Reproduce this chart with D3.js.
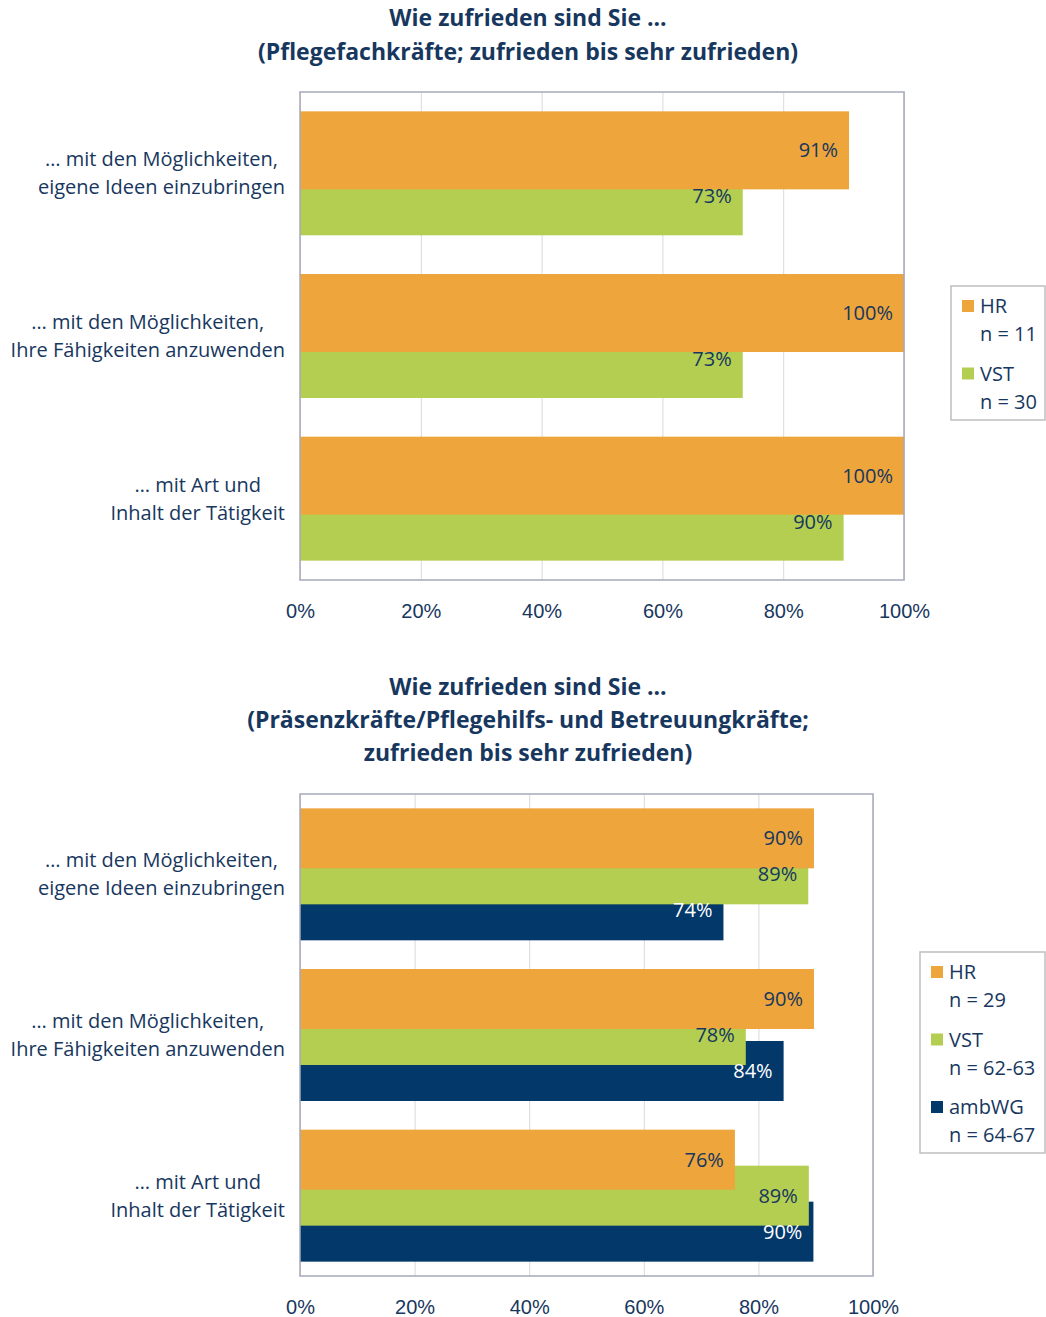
<!DOCTYPE html>
<html>
<head>
<meta charset="utf-8">
<script src="https://cdn.jsdelivr.net/npm/d3@7"></script>
<style>
	body { margin: 0; background: #fff; }
	svg { display: block; font-family: "Open Sans", Lato, sans-serif; }
</style>
</head>
<body>
<div id="chart"></div>
<script>
// categories (same for both charts)
const categories = [
	["… mit den Möglichkeiten,", "eigene Ideen einzubringen"],
	["… mit den Möglichkeiten,", "Ihre Fähigkeiten anzuwenden"],
	["… mit Art und", "Inhalt der Tätigkeit"],
];
const tick_values = [0, 0.2, 0.4, 0.6, 0.8, 1];

// chart 1: Pflegefachkräfte
const title_1 = ["Wie zufrieden sind Sie ...", "(Pflegefachkräfte; zufrieden bis sehr zufrieden)"];
const series_1 = ["HR", "VST"];
const n_1 = ["n = 11", "n = 30"];
const hr_1 = [0.909, 1.0, 1.0];
const vst_1 = [0.733, 0.733, 0.9];

// chart 2: Präsenzkräfte/Pflegehilfs- und Betreuungkräfte
const title_2 = [
	"Wie zufrieden sind Sie ...",
	"(Präsenzkräfte/Pflegehilfs- und Betreuungkräfte;",
	"zufrieden bis sehr zufrieden)",
];
const series_2 = ["HR", "VST", "ambWG"];
const n_2 = ["n = 29", "n = 62-63", "n = 64-67"];
const hr_2 = [0.897, 0.897, 0.759];
const vst_2 = [0.887, 0.778, 0.888];
const amb_2 = [0.739, 0.844, 0.896];

const colors = { HR: "#eda53c", VST: "#b3ce50", ambWG: "#03386a" };
const label_colors = { HR: "#17375e", VST: "#17375e", ambWG: "#ffffff" };
const text_color = "#17375e";
const font_size = 20;

const svg = d3
	.select("#chart")
	.append("svg")
	.attr("width", 1046)
	.attr("height", 1317);

function draw_chart(cfg) {
	const g = svg.append("g");

	// title
	g.append("g")
		.selectAll("text")
		.data(cfg.title)
		.join("text")
		.attr("x", 528)
		.attr("y", (d, i) => cfg.title_y + i * cfg.title_step)
		.attr("dy", "0.35em")
		.attr("text-anchor", "middle")
		.attr("font-size", 23)
		.attr("font-weight", "bold")
		.attr("fill", text_color)
		.text((d) => d);

	const x = d3
		.scaleLinear()
		.domain([0, 1])
		.range([cfg.left, cfg.right]);
	const y = d3
		.scaleBand()
		.domain(d3.range(categories.length))
		.range([cfg.top, cfg.bottom]);

	// grid
	g.append("g")
		.attr("transform", `translate(0,${cfg.bottom})`)
		.call(d3.axisBottom(x).tickValues(tick_values).tickSize(-(cfg.bottom - cfg.top)).tickFormat(""))
		.call((a) => a.select(".domain").remove())
		.selectAll("line")
		.attr("stroke", "#d9d9d9")
		.attr("stroke-width", 1);

	// tick labels
	g.append("g")
		.attr("transform", `translate(0,${cfg.bottom})`)
		.call(d3.axisBottom(x).tickValues(tick_values).tickSize(0).tickPadding(24).tickFormat(d3.format(".0%")))
		.call((a) => a.select(".domain").remove())
		.selectAll("text")
		.attr("font-family", null)
		.attr("font-size", font_size)
		.attr("fill", text_color);

	// bars, last series at the bottom
	const bw = y.bandwidth();
	const bar_h = bw * cfg.bar_frac;
	const step = bw * cfg.step_frac;
	const total = bar_h + step * (cfg.series.length - 1);
	const bar_y = (ci, si) => y(ci) + (bw - total) / 2 + si * step;

	const rows = [];
	cfg.series.forEach((s, si) => {
		cfg.values[si].forEach((v, ci) => rows.push({ s, si, ci, v }));
	});

	g.append("g")
		.selectAll("rect")
		.data(rows.slice().sort((a, b) => b.si - a.si))
		.join("rect")
		.attr("x", x(0))
		.attr("y", (d) => bar_y(d.ci, d.si))
		.attr("width", (d) => x(d.v) - x(0))
		.attr("height", bar_h)
		.attr("fill", (d) => colors[d.s]);

	g.append("g")
		.selectAll("text")
		.data(rows)
		.join("text")
		.attr("x", (d) => x(d.v) - 11)
		.attr("y", (d) => bar_y(d.ci, d.si) + bar_h / 2)
		.attr("dy", "0.35em")
		.attr("text-anchor", "end")
		.attr("font-size", font_size)
		.attr("fill", (d) => label_colors[d.s])
		.text((d) => d3.format(".0%")(d.v));

	// plot border
	g.append("rect")
		.attr("x", cfg.left)
		.attr("y", cfg.top)
		.attr("width", cfg.right - cfg.left)
		.attr("height", cfg.bottom - cfg.top)
		.attr("fill", "none")
		.attr("stroke", "#a6a9ba")
		.attr("stroke-width", 1.5);

	// category labels, lines centred within a right aligned block
	categories.forEach((lines, ci) => {
		const t = g.append("g");
		const cy = y(ci) + bw / 2;
		const texts = t
			.selectAll("text")
			.data(lines)
			.join("text")
			.attr("y", (d, i) => cy + (i - (lines.length - 1) / 2) * 28)
			.attr("dy", "0.35em")
			.attr("text-anchor", "middle")
			.attr("font-size", font_size)
			.attr("fill", text_color)
			.text((d) => d);
		const w = d3.max(texts.nodes(), (n) => n.getComputedTextLength());
		texts.attr("x", 285 - w / 2);
	});

	// legend
	const lg = g.append("g");
	lg.append("rect")
		.attr("x", cfg.legend.x)
		.attr("y", cfg.legend.y)
		.attr("width", cfg.legend.w)
		.attr("height", cfg.legend.h)
		.attr("fill", "#fff")
		.attr("stroke", "#bfbfbf")
		.attr("stroke-width", 1.5);
	cfg.series.forEach((s, si) => {
		const ty = cfg.legend.y + 20 + si * 67.5;
		lg.append("rect")
			.attr("x", cfg.legend.x + 11)
			.attr("y", ty - 6)
			.attr("width", 12)
			.attr("height", 12)
			.attr("fill", colors[s]);
		lg.append("text")
			.attr("x", cfg.legend.x + 29)
			.attr("y", ty)
			.attr("dy", "0.35em")
			.attr("font-size", font_size)
			.attr("fill", text_color)
			.text(s);
		lg.append("text")
			.attr("x", cfg.legend.x + 29)
			.attr("y", ty + 28)
			.attr("dy", "0.35em")
			.attr("font-size", font_size)
			.attr("fill", text_color)
			.text(cfg.n[si]);
	});
}

draw_chart({
	title: title_1,
	title_y: 18,
	title_step: 34,
	series: series_1,
	n: n_1,
	values: [hr_1, vst_1],
	left: 300,
	right: 904,
	top: 92,
	bottom: 580,
	bar_frac: 78 / 162.7,
	step_frac: 46 / 162.7,
	legend: { x: 951, y: 286, w: 94, h: 134 },
});

draw_chart({
	title: title_2,
	title_y: 687,
	title_step: 33,
	series: series_2,
	n: n_2,
	values: [hr_2, vst_2, amb_2],
	left: 300,
	right: 873,
	top: 794,
	bottom: 1276,
	bar_frac: 60 / 160.7,
	step_frac: 36 / 160.7,
	legend: { x: 920, y: 952, w: 125, h: 201 },
});
</script>
</body>
</html>
